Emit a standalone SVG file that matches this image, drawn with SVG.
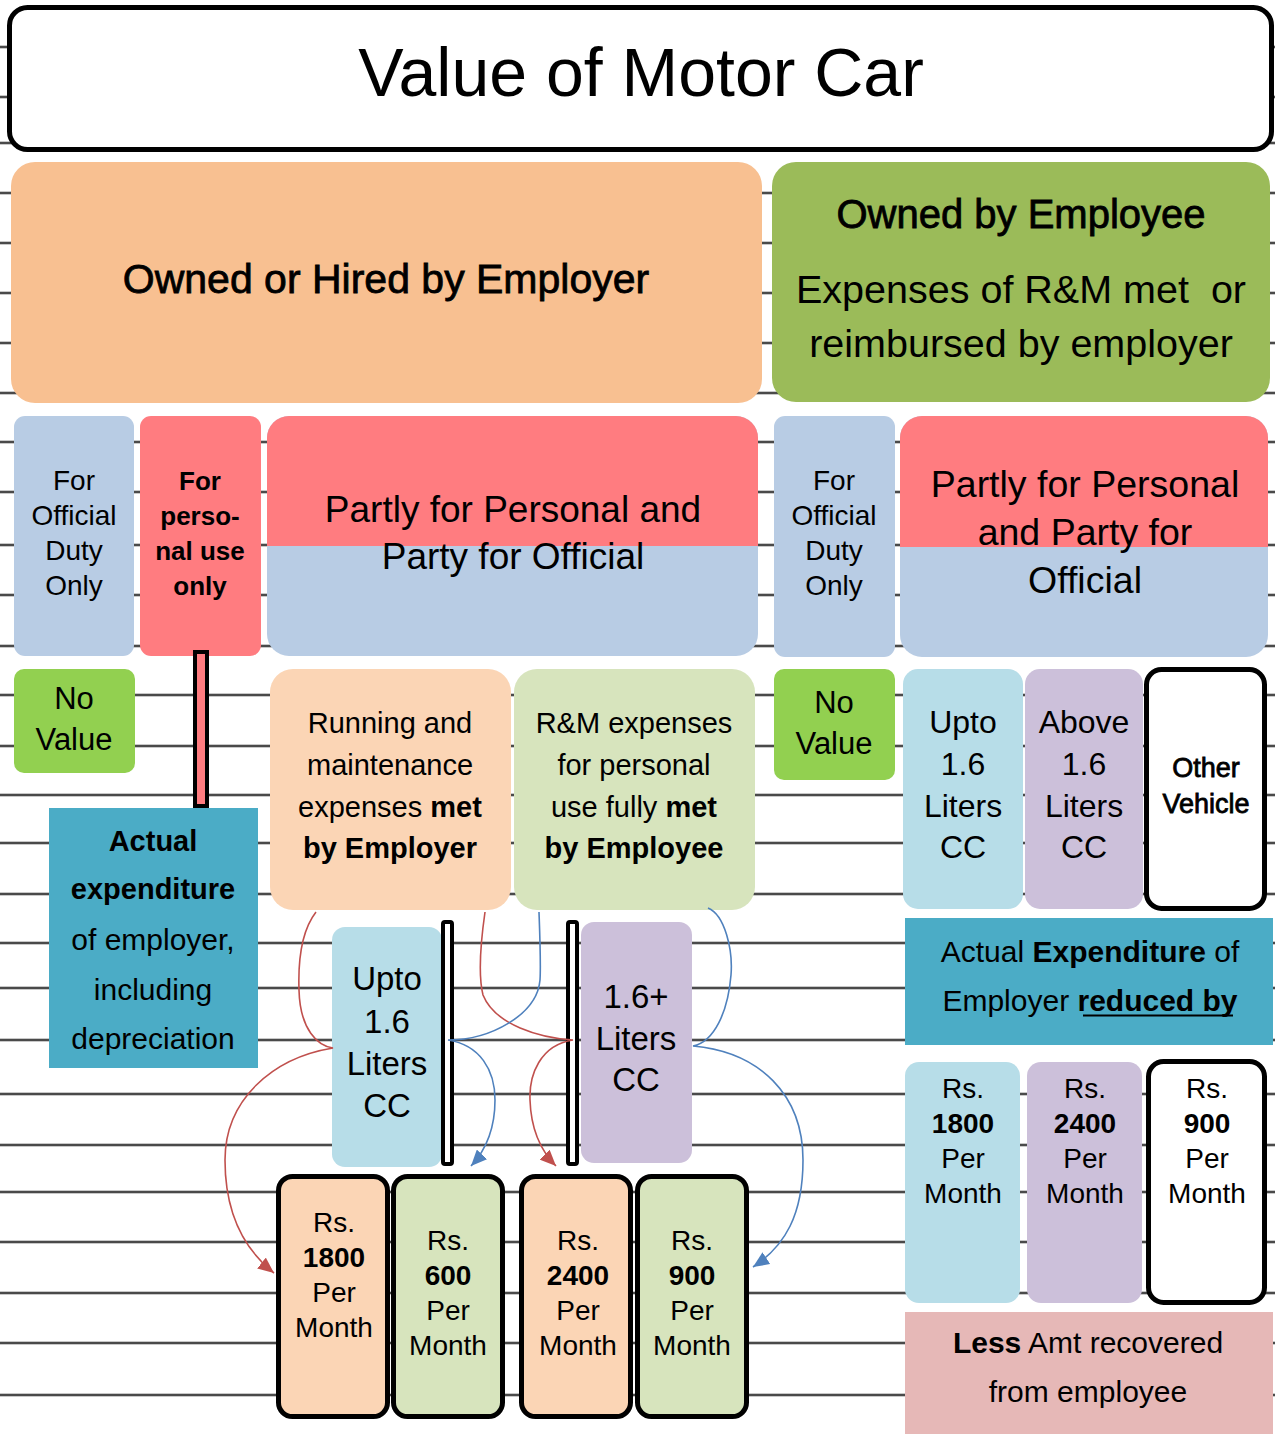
<svg xmlns="http://www.w3.org/2000/svg" width="1275" height="1434" viewBox="0 0 1275 1434">
  <defs>
    <style>
      text { font-family: "Liberation Sans", Arial, sans-serif; fill: #000; text-anchor: middle; }
      .b { font-weight: bold; }
      .semi { stroke: #000; stroke-width: 0.8; }
      .rule-halo { stroke: #c8c8c8; stroke-width: 4; }
      .rule { stroke: #4a4a4a; stroke-width: 2; }
      .outline { stroke: #000; stroke-width: 5; }
      .peach { fill: #F8C091; }
      .olive { fill: #9BBB59; }
      .steel { fill: #B8CCE4; }
      .rose { fill: #FF7C80; }
      .lime { fill: #92D050; }
      .teal { fill: #4BACC6; }
      .apricot { fill: #FBD5B5; }
      .sage { fill: #D7E4BD; }
      .sky { fill: #B7DDE8; }
      .lilac { fill: #CCC0DA; }
      .blush { fill: #E6B8B7; }
      .red-link { fill: none; stroke: #C0504D; stroke-width: 1.6; }
      .blue-link { fill: none; stroke: #4F81BD; stroke-width: 1.6; }
    </style>
    <marker id="arrow-red" viewBox="0 0 16 14" refX="16" refY="7" markerWidth="16" markerHeight="14" markerUnits="userSpaceOnUse" orient="auto">
      <path d="M0,0 L16,7 L0,14 Z" fill="#C0504D"/>
    </marker>
    <marker id="arrow-blue" viewBox="0 0 16 14" refX="16" refY="7" markerWidth="16" markerHeight="14" markerUnits="userSpaceOnUse" orient="auto">
      <path d="M0,0 L16,7 L0,14 Z" fill="#4F81BD"/>
    </marker>
  </defs>

  <!-- ruled paper background -->
  <rect x="0" y="0" width="1275" height="1434" fill="#fff"/>
  <g id="ruled-lines">
    <path class="rule-halo" d="M0,47H1275M0,97H1275M0,143H1275M0,193H1275M0,243H1275M0,293H1275M0,343H1275M0,393H1275M0,442H1275M0,492H1275M0,545H1275M0,595H1275M0,646H1275M0,695H1275M0,746H1275M0,795H1275M0,843H1275M0,894H1275M0,943H1275M0,988H1275M0,1040H1275M0,1094H1275M0,1145H1275M0,1192H1275M0,1242H1275M0,1293H1275M0,1343H1275M0,1395H1275"/>
    <path class="rule" d="M0,47H1275M0,97H1275M0,143H1275M0,193H1275M0,243H1275M0,293H1275M0,343H1275M0,393H1275M0,442H1275M0,492H1275M0,545H1275M0,595H1275M0,646H1275M0,695H1275M0,746H1275M0,795H1275M0,843H1275M0,894H1275M0,943H1275M0,988H1275M0,1040H1275M0,1094H1275M0,1145H1275M0,1192H1275M0,1242H1275M0,1293H1275M0,1343H1275M0,1395H1275"/>
  </g>

  <!-- title -->
  <g id="title">
    <rect x="9.5" y="7.5" width="1262" height="142" rx="18" fill="#fff" class="outline"/>
    <text x="641" y="96" font-size="68">Value of Motor Car</text>
  </g>

  <!-- ownership -->
  <g id="owned-employer">
    <rect x="11" y="162" width="751" height="241" rx="24" class="peach"/>
    <text class="semi" x="386" y="293" font-size="41">Owned or Hired by Employer</text>
  </g>
  <g id="owned-employee">
    <rect x="772" y="162" width="498" height="240" rx="24" class="olive"/>
    <text class="semi" x="1021" y="228" font-size="40">Owned by Employee</text>
    <text x="1021" y="303" font-size="39.5" xml:space="preserve">Expenses of R&amp;M met  or</text>
    <text x="1021" y="357" font-size="39.5">reimbursed by employer</text>
  </g>

  <!-- usage, employer side -->
  <g id="emp-official">
    <rect x="14" y="416" width="120" height="240" rx="11" class="steel"/>
    <text x="74" y="490" font-size="28">For</text>
    <text x="74" y="525" font-size="28">Official</text>
    <text x="74" y="560" font-size="28">Duty</text>
    <text x="74" y="595" font-size="28">Only</text>
  </g>
  <g id="emp-personal">
    <rect x="140" y="416" width="121" height="240" rx="11" class="rose"/>
    <text class="b" x="200" y="490" font-size="26">For</text>
    <text class="b" x="200" y="525" font-size="26">perso-</text>
    <text class="b" x="200" y="560" font-size="26">nal use</text>
    <text class="b" x="200" y="595" font-size="26">only</text>
  </g>
  <g id="emp-partly">
    <rect x="267" y="416" width="491" height="240" rx="22" class="steel"/>
    <path d="M267,546 V438 A22,22 0 0 1 289,416 H736 A22,22 0 0 1 758,438 V546 Z" class="rose"/>
    <text x="513" y="522" font-size="37">Partly for Personal and</text>
    <text x="513" y="569" font-size="37">Party for Official</text>
  </g>

  <!-- usage, employee side -->
  <g id="ee-official">
    <rect x="774" y="416" width="121" height="241" rx="11" class="steel"/>
    <text x="834" y="490" font-size="28">For</text>
    <text x="834" y="525" font-size="28">Official</text>
    <text x="834" y="560" font-size="28">Duty</text>
    <text x="834" y="595" font-size="28">Only</text>
  </g>
  <g id="ee-partly">
    <rect x="900" y="416" width="368" height="241" rx="22" class="steel"/>
    <path d="M900,547 V438 A22,22 0 0 1 922,416 H1246 A22,22 0 0 1 1268,438 V547 Z" class="rose"/>
    <text x="1085" y="497" font-size="37.5">Partly for Personal</text>
    <text x="1085" y="545" font-size="37.5">and Party for</text>
    <text x="1085" y="593" font-size="37.5">Official</text>
  </g>

  <!-- employer: official / personal outcomes -->
  <g id="emp-no-value">
    <rect x="14" y="669" width="121" height="104" rx="10" class="lime"/>
    <text x="74" y="709" font-size="31">No</text>
    <text x="74" y="750" font-size="31">Value</text>
  </g>
  <g id="personal-bar">
    <rect x="195" y="652" width="12" height="154" class="rose" stroke="#000" stroke-width="4"/>
  </g>
  <g id="emp-actual">
    <rect x="49" y="808" width="209" height="260" class="teal"/>
    <text class="b" x="153" y="851" font-size="29">Actual</text>
    <text class="b" x="153" y="899" font-size="29">expenditure</text>
    <text x="153" y="950" font-size="30">of employer,</text>
    <text x="153" y="1000" font-size="30">including</text>
    <text x="153" y="1049" font-size="30">depreciation</text>
  </g>

  <!-- employer: partly use -->
  <g id="met-by-employer">
    <rect x="270" y="669" width="241" height="241" rx="23" class="apricot"/>
    <text x="390" y="733" font-size="29">Running and</text>
    <text x="390" y="775" font-size="29">maintenance</text>
    <text x="390" y="817" font-size="29">expenses <tspan class="b">met</tspan></text>
    <text class="b" x="390" y="858" font-size="29">by Employer</text>
  </g>
  <g id="met-by-employee">
    <rect x="514" y="669" width="241" height="241" rx="23" class="sage"/>
    <text x="634" y="733" font-size="29">R&amp;M expenses</text>
    <text x="634" y="775" font-size="29">for personal</text>
    <text x="634" y="817" font-size="29">use fully <tspan class="b">met</tspan></text>
    <text class="b" x="634" y="858" font-size="29">by Employee</text>
  </g>
  <g id="emp-upto">
    <rect x="332" y="927" width="110" height="240" rx="13" class="sky"/>
    <text x="387" y="990" font-size="33">Upto</text>
    <text x="387" y="1033" font-size="33">1.6</text>
    <text x="387" y="1075" font-size="33">Liters</text>
    <text x="387" y="1117" font-size="33">CC</text>
  </g>
  <g id="divider-1">
    <rect x="443" y="922" width="9" height="242" rx="2" fill="#fff" stroke="#000" stroke-width="4"/>
  </g>
  <g id="divider-2">
    <rect x="568" y="922" width="9" height="242" rx="2" fill="#fff" stroke="#000" stroke-width="4"/>
  </g>
  <g id="emp-above">
    <rect x="581" y="922" width="111" height="241" rx="13" class="lilac"/>
    <text x="636" y="1008" font-size="33">1.6+</text>
    <text x="636" y="1050" font-size="33">Liters</text>
    <text x="636" y="1091" font-size="33">CC</text>
  </g>
  <g id="emp-1800">
    <rect x="278.5" y="1176.5" width="109" height="240" rx="14" class="apricot outline"/>
    <text x="334" y="1232" font-size="28">Rs.</text>
    <text class="b" x="334" y="1267" font-size="28">1800</text>
    <text x="334" y="1302" font-size="28">Per</text>
    <text x="334" y="1337" font-size="28">Month</text>
  </g>
  <g id="emp-600">
    <rect x="393.5" y="1176.5" width="109" height="240" rx="14" class="sage outline"/>
    <text x="448" y="1250" font-size="28">Rs.</text>
    <text class="b" x="448" y="1285" font-size="28">600</text>
    <text x="448" y="1320" font-size="28">Per</text>
    <text x="448" y="1355" font-size="28">Month</text>
  </g>
  <g id="emp-2400">
    <rect x="521.5" y="1176.5" width="109" height="240" rx="14" class="apricot outline"/>
    <text x="578" y="1250" font-size="28">Rs.</text>
    <text class="b" x="578" y="1285" font-size="28">2400</text>
    <text x="578" y="1320" font-size="28">Per</text>
    <text x="578" y="1355" font-size="28">Month</text>
  </g>
  <g id="emp-900">
    <rect x="637.5" y="1176.5" width="109" height="240" rx="14" class="sage outline"/>
    <text x="692" y="1250" font-size="28">Rs.</text>
    <text class="b" x="692" y="1285" font-size="28">900</text>
    <text x="692" y="1320" font-size="28">Per</text>
    <text x="692" y="1355" font-size="28">Month</text>
  </g>

  <!-- employee side outcomes -->
  <g id="ee-no-value">
    <rect x="774" y="669" width="121" height="111" rx="10" class="lime"/>
    <text x="834" y="713" font-size="31">No</text>
    <text x="834" y="754" font-size="31">Value</text>
  </g>
  <g id="ee-upto">
    <rect x="903" y="669" width="120" height="240" rx="15" class="sky"/>
    <text x="963" y="733" font-size="32">Upto</text>
    <text x="963" y="775" font-size="32">1.6</text>
    <text x="963" y="817" font-size="32">Liters</text>
    <text x="963" y="858" font-size="32">CC</text>
  </g>
  <g id="ee-above">
    <rect x="1025" y="669" width="118" height="240" rx="15" class="lilac"/>
    <text x="1084" y="733" font-size="32">Above</text>
    <text x="1084" y="775" font-size="32">1.6</text>
    <text x="1084" y="817" font-size="32">Liters</text>
    <text x="1084" y="858" font-size="32">CC</text>
  </g>
  <g id="ee-other">
    <rect x="1146.5" y="669.5" width="118" height="239" rx="15" fill="#fff" class="outline"/>
    <text class="semi" x="1206" y="777" font-size="27">Other</text>
    <text class="semi" x="1206" y="813" font-size="27">Vehicle</text>
  </g>
  <g id="ee-actual">
    <rect x="905" y="918" width="368" height="127" class="teal"/>
    <text x="1090" y="962" font-size="30">Actual <tspan class="b">Expenditure</tspan> of</text>
    <text x="1090" y="1011" font-size="30">Employer <tspan class="b">reduced by</tspan></text>
    <path d="M1083,1015.5 H1233" stroke="#000" stroke-width="2"/>
  </g>
  <g id="ee-1800">
    <rect x="905" y="1062" width="115" height="241" rx="14" class="sky"/>
    <text x="963" y="1098" font-size="28">Rs.</text>
    <text class="b" x="963" y="1133" font-size="28">1800</text>
    <text x="963" y="1168" font-size="28">Per</text>
    <text x="963" y="1203" font-size="28">Month</text>
  </g>
  <g id="ee-2400">
    <rect x="1027" y="1062" width="115" height="241" rx="14" class="lilac"/>
    <text x="1085" y="1098" font-size="28">Rs.</text>
    <text class="b" x="1085" y="1133" font-size="28">2400</text>
    <text x="1085" y="1168" font-size="28">Per</text>
    <text x="1085" y="1203" font-size="28">Month</text>
  </g>
  <g id="ee-900">
    <rect x="1148.5" y="1061.5" width="116" height="241" rx="15" fill="#fff" class="outline"/>
    <text x="1207" y="1098" font-size="28">Rs.</text>
    <text class="b" x="1207" y="1133" font-size="28">900</text>
    <text x="1207" y="1168" font-size="28">Per</text>
    <text x="1207" y="1203" font-size="28">Month</text>
  </g>
  <g id="ee-recovered">
    <rect x="905" y="1312" width="368" height="122" class="blush"/>
    <text x="1088" y="1353" font-size="30"><tspan class="b">Less</tspan> Amt recovered</text>
    <text x="1088" y="1402" font-size="30">from employee</text>
  </g>

  <!-- connectors -->
  <g id="connectors">
    <path class="red-link" d="M316,912 C302,930 298,960 299,990 C300,1030 318,1046 333,1048 C272,1058 225,1100 225,1160 C225,1215 245,1250 274,1273" marker-end="url(#arrow-red)"/>
    <path class="red-link" d="M485,912 C481,940 478,975 483,995 C495,1025 540,1038 573,1040 C540,1045 529,1075 530,1100 C531,1130 540,1150 556,1166" marker-end="url(#arrow-red)"/>
    <path class="blue-link" d="M539,912 C540,940 541,965 540,980 C537,1015 490,1040 448,1040 C480,1045 495,1070 495,1100 C495,1130 486,1150 471,1166" marker-end="url(#arrow-blue)"/>
    <path class="blue-link" d="M708,908 C725,915 733,950 731,975 C728,1012 714,1042 693,1046 C760,1052 803,1095 803,1160 C803,1215 785,1246 753,1267" marker-end="url(#arrow-blue)"/>
  </g>
</svg>
